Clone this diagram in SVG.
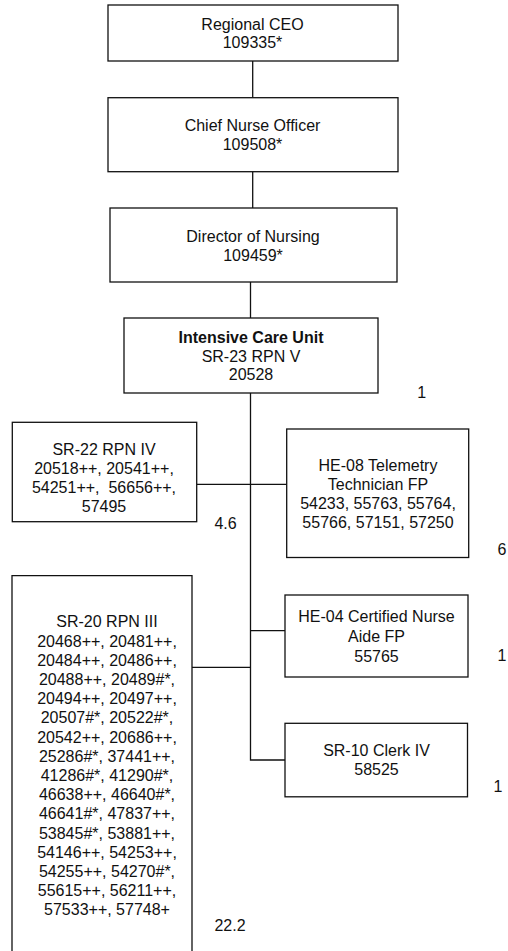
<svg xmlns="http://www.w3.org/2000/svg" width="508" height="951" viewBox="0 0 508 951">
<style>
.box{fill:#fff;stroke:#111;stroke-width:1.3}
.ln{fill:none;stroke:#111;stroke-width:1.3}
text{font-family:"Liberation Sans",Arial,sans-serif;font-size:16px;fill:#111;text-anchor:middle;dominant-baseline:central}
.b{font-weight:bold}
.pre{white-space:pre}
</style>
<rect width="508" height="951" fill="#fff"/>
<g id="connectors">
<line class="ln" x1="252.7" y1="61" x2="252.7" y2="97.7"/>
<line class="ln" x1="252.7" y1="171.7" x2="252.7" y2="208"/>
<line class="ln" x1="250.5" y1="282" x2="250.5" y2="318"/>
<polyline class="ln" points="250.5,393 250.5,760 285,760"/>
<line class="ln" x1="197" y1="484.3" x2="286.7" y2="484.3"/>
<line class="ln" x1="192" y1="667.3" x2="250.5" y2="667.3"/>
<line class="ln" x1="250.5" y1="630.7" x2="285" y2="630.7"/>
</g>
<g id="ceo">
<rect class="box" x="108" y="5" width="290" height="56"/>
<text x="252.5" y="24">Regional CEO</text>
<text x="252.5" y="42.3">109335*</text>
</g>
<g id="cno">
<rect class="box" x="108" y="97.7" width="290" height="74"/>
<text x="252.5" y="125">Chief Nurse Officer</text>
<text x="252.5" y="144">109508*</text>
</g>
<g id="don">
<rect class="box" x="110" y="208" width="287" height="74"/>
<text x="253" y="236.7">Director of Nursing</text>
<text x="253" y="255">109459*</text>
</g>
<g id="icu">
<rect class="box" x="124" y="318" width="254" height="75"/>
<text class="b" x="251" y="337.3">Intensive Care Unit</text>
<text x="251" y="356.3">SR-23 RPN V</text>
<text x="251" y="374.5">20528</text>
</g>
<g id="sr22">
<rect class="box" x="12.3" y="422.3" width="184.4" height="99.4"/>
<text x="104" y="449.3">SR-22 RPN IV</text>
<text x="104" y="468.3">20518++, 20541++,</text>
<text class="pre" x="104" y="487.7">54251++,  56656++,</text>
<text x="104" y="506.7">57495</text>
</g>
<g id="he08">
<rect class="box" x="286.7" y="429" width="182" height="128.5"/>
<text x="378" y="465">HE-08 Telemetry</text>
<text x="378" y="484.3">Technician FP</text>
<text x="378" y="503.3">54233, 55763, 55764,</text>
<text x="378" y="522.7">55766, 57151, 57250</text>
</g>
<g id="he04">
<rect class="box" x="285" y="595" width="183" height="82"/>
<text x="376.5" y="616.7">HE-04 Certified Nurse</text>
<text x="376.5" y="636.7">Aide FP</text>
<text x="376.5" y="656">55765</text>
</g>
<g id="sr10">
<rect class="box" x="285" y="723.3" width="182.5" height="73.5"/>
<text x="376.5" y="750">SR-10 Clerk IV</text>
<text x="376.5" y="769.3">58525</text>
</g>
<g id="sr20">
<path class="ln" d="M12,960 V575.7 H192 V960" fill="#fff"/>
<text x="107" y="621.7">SR-20 RPN III</text>
<text x="107" y="641">20468++, 20481++,</text>
<text x="107" y="660.2">20484++, 20486++,</text>
<text x="107" y="679.4">20488++, 20489#*,</text>
<text x="107" y="698.6">20494++, 20497++,</text>
<text x="107" y="717.8">20507#*, 20522#*,</text>
<text x="107" y="737">20542++, 20686++,</text>
<text x="107" y="756.2">25286#*, 37441++,</text>
<text x="107" y="775.4">41286#*, 41290#*,</text>
<text x="107" y="794.6">46638++, 46640#*,</text>
<text x="107" y="813.8">46641#*, 47837++,</text>
<text x="107" y="833">53845#*, 53881++,</text>
<text x="107" y="852.2">54146++, 54253++,</text>
<text x="107" y="871.4">54255++, 54270#*,</text>
<text x="107" y="890.6">55615++, 56211++,</text>
<text x="107" y="909.8">57533++, 57748+</text>
</g>
<g id="labels">
<text x="421.7" y="392">1</text>
<text x="225.5" y="523">4.6</text>
<text x="502" y="549">6</text>
<text x="502" y="655">1</text>
<text x="498" y="786">1</text>
<text x="230" y="925">22.2</text>
</g>
</svg>
